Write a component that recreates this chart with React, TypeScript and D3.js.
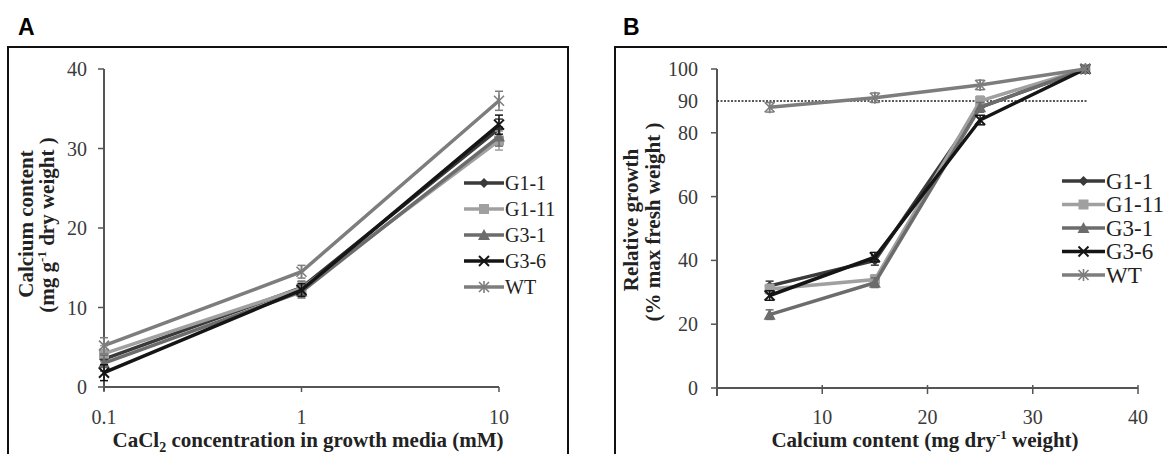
import React from 'react';
import * as d3 from 'd3';

// panel A: calcium content vs CaCl2 concentration
const concA = [0.1, 1, 10];
const seriesNames = ['G1-1', 'G1-11', 'G3-1', 'G3-6', 'WT'];
const caG11 = [3.5, 12.5, 32.5];
const caG111 = [4.2, 12.4, 31.0];
const caG31 = [3.0, 12.0, 31.5];
const caG36 = [1.8, 12.2, 33.0];
const caWT = [5.2, 14.5, 36.0];
const errA = [1.0, 0.8, 1.2];
const ticksA_y = [0, 10, 20, 30, 40];
const ticksA_x = [0.1, 1, 10];

// panel B: relative growth vs calcium content
const caB = [5, 15, 25, 35];
const grG11 = [32, 40, 88, 100];
const grG111 = [31, 34, 90, 100];
const grG31 = [23, 33, 88, 100];
const grG36 = [29, 41, 84, 100];
const grWT = [88, 91, 95, 100];
const errB = [1.5, 1.5, 1.5, 0.5];
const ticksB_y = [0, 20, 40, 60, 80, 100];
const ticksB_x = [10, 20, 30, 40];
const refLine = 90;

const colors = ['#3a3a3a', '#a0a0a0', '#6c6c6c', '#151515', '#7d7d7d'];
const shapes = ['diamond', 'square', 'triangle', 'cross', 'star'];

const serif = '"Liberation Serif", "Times New Roman", serif';

function Marker({ shape, x, y, color }) {
  const s = 5;
  if (shape === 'diamond') {
    return <path d={`M${x},${y - s}L${x + s},${y}L${x},${y + s}L${x - s},${y}Z`} fill={color} />;
  }
  if (shape === 'square') {
    return <rect x={x - s} y={y - s} width={2 * s} height={2 * s} fill={color} />;
  }
  if (shape === 'triangle') {
    return <path d={`M${x},${y - s - 1}L${x + s + 1},${y + s}L${x - s - 1},${y + s}Z`} fill={color} />;
  }
  if (shape === 'cross') {
    return (
      <g stroke={color} strokeWidth={2}>
        <line x1={x - s} y1={y - s} x2={x + s} y2={y + s} />
        <line x1={x - s} y1={y + s} x2={x + s} y2={y - s} />
      </g>
    );
  }
  return (
    <g stroke={color} strokeWidth={1.6}>
      <line x1={x - s} y1={y - s} x2={x + s} y2={y + s} />
      <line x1={x - s} y1={y + s} x2={x + s} y2={y - s} />
      <line x1={x} y1={y - s - 1} x2={x} y2={y + s + 1} />
    </g>
  );
}

function Series({ xs, ys, errs, x, y, i }) {
  const line = d3.line<number>().x((d, k) => x(xs[k])).y((d) => y(d));
  const color = colors[i];
  return (
    <g>
      <path d={line(ys)} fill="none" stroke={color} strokeWidth={3.5} />
      {ys.map((v, k) => {
        const cx = x(xs[k]);
        const top = y(v + errs[k]);
        const bot = y(Math.max(0, v - errs[k]));
        return (
          <g key={k}>
            <line x1={cx} x2={cx} y1={top} y2={bot} stroke={color} strokeWidth={1.5} />
            <line x1={cx - 4} x2={cx + 4} y1={top} y2={top} stroke={color} strokeWidth={1.5} />
            <line x1={cx - 4} x2={cx + 4} y1={bot} y2={bot} stroke={color} strokeWidth={1.5} />
            <Marker shape={shapes[i]} x={cx} y={y(v)} color={color} />
          </g>
        );
      })}
    </g>
  );
}

function Legend({ x0, y0, step, size, len }) {
  return (
    <g>
      {seriesNames.map((name, i) => {
        const yy = y0 + i * step;
        return (
          <g key={name}>
            <line x1={x0} x2={x0 + len} y1={yy} y2={yy} stroke={colors[i]} strokeWidth={3.5} />
            <Marker shape={shapes[i]} x={x0 + len / 2} y={yy} color={colors[i]} />
            <text x={x0 + len + 1} y={yy + size * 0.34} fontSize={size} fontFamily={serif} fill="#222">{name}</text>
          </g>
        );
      })}
    </g>
  );
}

export default function App() {
  const xA = d3.scaleLog().domain([0.1, 10]).range([104, 499]);
  const yA = d3.scaleLinear().domain([0, 40]).range([387, 69]);
  const xB = d3.scaleLinear().domain([0, 40]).range([717, 1138]);
  const yB = d3.scaleLinear().domain([0, 100]).range([388, 69]);

  const seriesA = [caG11, caG111, caG31, caG36, caWT];
  const seriesB = [grG11, grG111, grG31, grG36, grWT];
  const axisColor = '#555';
  const tickSize = 20;
  const titleSize = 21;

  return (
    <svg width={1167} height={454} style={{ position: 'absolute', left: 0, top: 0, background: '#fff' }}>
      {/* panel labels and frames */}
      <text x={18} y={35} fontSize={23} fontWeight="bold" fontFamily='"Liberation Sans", Arial, sans-serif'>A</text>
      <text x={623} y={35} fontSize={23} fontWeight="bold" fontFamily='"Liberation Sans", Arial, sans-serif'>B</text>
      <path d="M8,470V47H568V470" fill="none" stroke="#111" strokeWidth={2} />
      <path d="M615,470V47H1175" fill="none" stroke="#111" strokeWidth={2} />

      {/* ---- panel A ---- */}
      <line x1={xA(0.1)} x2={xA(0.1)} y1={yA(40)} y2={yA(0) + 4} stroke={axisColor} strokeWidth={2} />
      <line x1={xA(0.1)} x2={xA(10)} y1={yA(0)} y2={yA(0)} stroke={axisColor} strokeWidth={2} />
      {ticksA_y.map((t) => (
        <g key={t}>
          <line x1={xA(0.1) - 6} x2={xA(0.1)} y1={yA(t)} y2={yA(t)} stroke={axisColor} strokeWidth={1.5} />
          <text x={87} y={yA(t) + 7} textAnchor="end" fontSize={tickSize} fontFamily={serif} fill="#3a3a3a">{t}</text>
        </g>
      ))}
      {ticksA_x.map((t) => (
        <g key={t}>
          <line x1={xA(t)} x2={xA(t)} y1={yA(0)} y2={yA(0) + 5} stroke={axisColor} strokeWidth={1.5} />
          <text x={xA(t)} y={424} textAnchor="middle" fontSize={tickSize} fontFamily={serif} fill="#3a3a3a">{t}</text>
        </g>
      ))}
      {seriesA.map((ys, i) => (
        <Series key={i} xs={concA} ys={ys} errs={errA} x={xA} y={yA} i={i} />
      ))}
      <Legend x0={464} y0={183} step={26} size={20} len={40} />
      <text x={308} y={447} textAnchor="middle" fontSize={titleSize} fontWeight="bold" fontFamily={serif} fill="#222">
        CaCl<tspan dy={5} fontSize={14}>2</tspan><tspan dy={-5}> concentration in growth media (mM)</tspan>
      </text>
      <g transform="translate(33,224) rotate(-90)">
        <text textAnchor="middle" fontSize={titleSize} fontWeight="bold" fontFamily={serif} fill="#222">Calcium content</text>
      </g>
      <g transform="translate(54,225) rotate(-90)">
        <text textAnchor="middle" fontSize={titleSize} fontWeight="bold" fontFamily={serif} fill="#222">
          (mg g<tspan dy={-8} fontSize={13}>-1</tspan><tspan dy={8}> dry weight )</tspan>
        </text>
      </g>

      {/* ---- panel B ---- */}
      <line x1={xB(0)} x2={xB(0)} y1={yB(100)} y2={yB(0) + 8} stroke={axisColor} strokeWidth={2} />
      <line x1={xB(0)} x2={xB(40)} y1={yB(0)} y2={yB(0)} stroke={axisColor} strokeWidth={2} />
      {ticksB_y.map((t) => (
        <g key={t}>
          <line x1={xB(0) - 6} x2={xB(0)} y1={yB(t)} y2={yB(t)} stroke={axisColor} strokeWidth={1.5} />
          <text x={698} y={yB(t) + 7} textAnchor="end" fontSize={tickSize} fontFamily={serif} fill="#3a3a3a">{t}</text>
        </g>
      ))}
      <text x={698} y={yB(refLine) + 7} textAnchor="end" fontSize={tickSize} fontFamily={serif} fill="#3a3a3a">{refLine}</text>
      {ticksB_x.map((t) => (
        <g key={t}>
          <line x1={xB(t)} x2={xB(t)} y1={yB(0) - 3} y2={yB(0) + 6} stroke={axisColor} strokeWidth={1.5} />
          <text x={xB(t)} y={424} textAnchor="middle" fontSize={tickSize} fontFamily={serif} fill="#3a3a3a">{t}</text>
        </g>
      ))}
      <line x1={xB(0)} x2={1087} y1={yB(refLine)} y2={yB(refLine)} stroke="#222" strokeWidth={1.5} strokeDasharray="2,1.5" />
      {seriesB.map((ys, i) => (
        <Series key={i} xs={caB} ys={ys} errs={errB} x={xB} y={yB} i={i} />
      ))}
      <Legend x0={1062} y0={181} step={23.5} size={23} len={43} />
      <text x={925} y={447} textAnchor="middle" fontSize={titleSize} fontWeight="bold" fontFamily={serif} fill="#222">
        Calcium content (mg dry<tspan dy={-8} fontSize={13}>-1</tspan><tspan dy={8}>  weight)</tspan>
      </text>
      <g transform="translate(638,220) rotate(-90)">
        <text textAnchor="middle" fontSize={titleSize} fontWeight="bold" fontFamily={serif} fill="#222">Relative growth</text>
      </g>
      <g transform="translate(660,222) rotate(-90)">
        <text textAnchor="middle" fontSize={titleSize} fontWeight="bold" fontFamily={serif} fill="#222">(% max fresh weight )</text>
      </g>
    </svg>
  );
}
